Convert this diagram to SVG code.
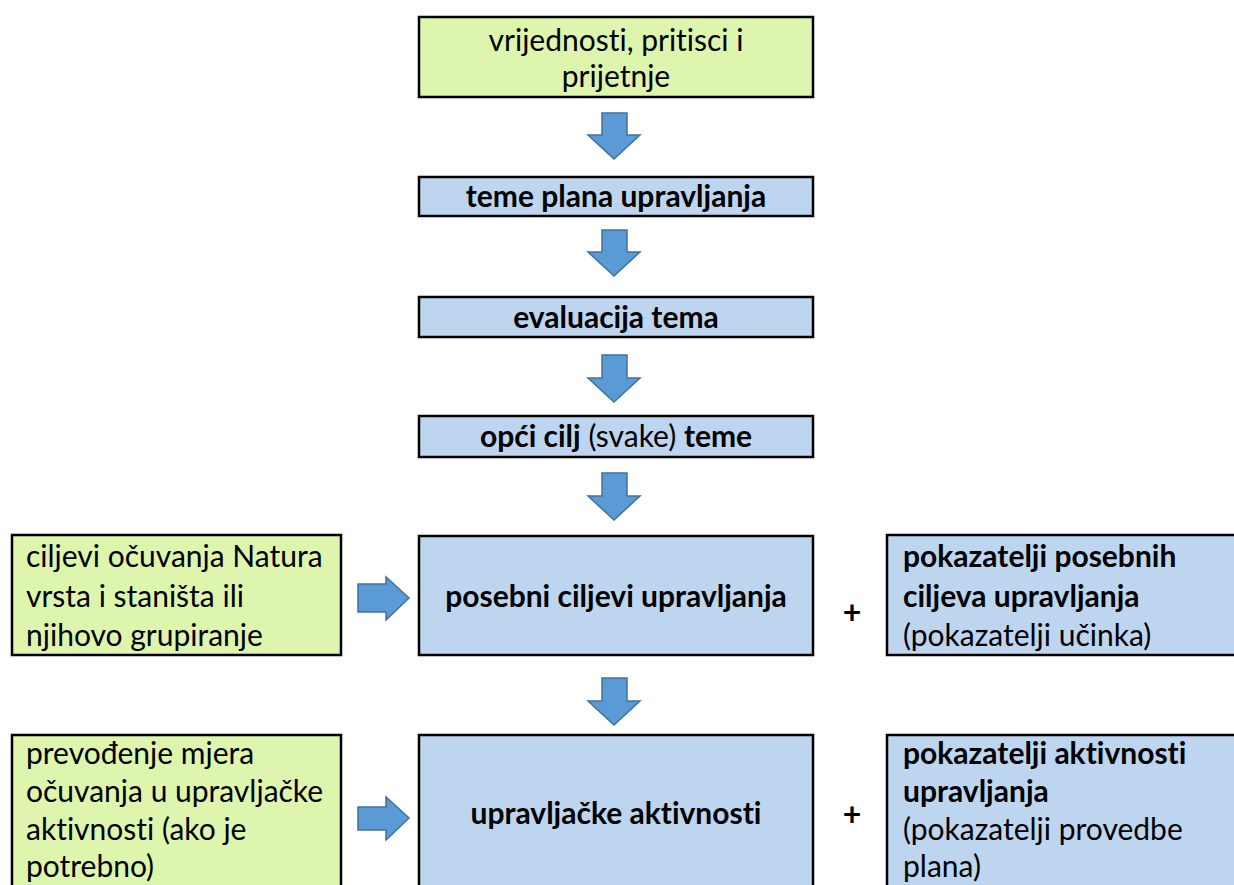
<svg xmlns="http://www.w3.org/2000/svg" width="1234" height="885" viewBox="0 0 1234 885">
<style>
.g{fill:#DDF5AD;stroke:#000;stroke-width:2.5}
.b{fill:#BDD5EE;stroke:#000;stroke-width:2.5}
.a{fill:#5B9BD5;stroke:#41719C;stroke-width:1.5;stroke-linejoin:miter}
text{font-family:Lato,"Open Sans","Liberation Sans",sans-serif;font-size:30px;fill:#000;font-variant-ligatures:none;font-feature-settings:"liga" 0}
.c{text-anchor:middle}
.k{font-weight:bold}
.p{font-size:32px}
</style>
<g id="connectors">
<path class="a" d="M602,113 H627 V135 H640 L614,159 L588,135 H602 Z"/>
<path class="a" d="M602,230 H627 V252 H640 L614,276 L588,252 H602 Z"/>
<path class="a" d="M602,355 H627 V378 H640 L614,402 L588,378 H602 Z"/>
<path class="a" d="M602,473 H627 V496 H640 L614,520 L588,496 H602 Z"/>
<path class="a" d="M602,678 H627 V701 H640 L614,725 L588,701 H602 Z"/>
<path class="a" d="M358,584 H386 V577 L409,598 L386,620 V612 H358 Z"/>
<path class="a" d="M358,807 H386 V797 L409,818 L386,840 V830 H358 Z"/>
</g>
<g id="n1"><rect class="g" x="419" y="17" width="394" height="80"/>
<text class="c" x="616" y="51">vrijednosti, pritisci i</text>
<text class="c" x="616" y="87">prijetnje</text></g>
<g id="n2"><rect class="b" x="419" y="177" width="394" height="39"/>
<text class="c k" x="616" y="207">teme plana upravljanja</text></g>
<g id="n3"><rect class="b" x="419" y="297" width="394" height="40"/>
<text class="c k" x="616" y="328">evaluacija tema</text></g>
<g id="n4"><rect class="b" x="419" y="416" width="394" height="41"/>
<text class="c" x="616" y="447"><tspan class="k">opći cilj</tspan> (svake) <tspan class="k">teme</tspan></text></g>
<g id="n5"><rect class="g" x="12" y="535" width="329" height="120"/>
<text x="26" y="567">ciljevi očuvanja Natura</text>
<text x="26" y="607">vrsta i staništa ili</text>
<text x="26" y="646">njihovo grupiranje</text></g>
<g id="n6"><rect class="b" x="419" y="536" width="394" height="119"/>
<text class="c k" x="616" y="607">posebni ciljevi upravljanja</text></g>
<g id="p1"><text class="c k p" x="852" y="624">+</text></g>
<g id="n7"><rect class="b" x="887" y="535" width="360" height="120"/>
<text class="k" x="903" y="567">pokazatelji posebnih</text>
<text class="k" x="903" y="607">ciljeva upravljanja</text>
<text x="903" y="646">(pokazatelji učinka)</text></g>
<g id="n8"><rect class="g" x="12" y="735" width="329" height="170"/>
<text x="26" y="764">prevođenje mjera</text>
<text x="26" y="802">očuvanja u upravljačke</text>
<text x="26" y="840">aktivnosti (ako je</text>
<text x="26" y="877">potrebno)</text></g>
<g id="n9"><rect class="b" x="419" y="735" width="394" height="170"/>
<text class="c k" x="616" y="824">upravljačke aktivnosti</text></g>
<g id="p2"><text class="c k p" x="852" y="826">+</text></g>
<g id="n10"><rect class="b" x="887" y="735" width="360" height="170"/>
<text class="k" x="903" y="764">pokazatelji aktivnosti</text>
<text class="k" x="903" y="802">upravljanja</text>
<text x="903" y="840">(pokazatelji provedbe</text>
<text x="903" y="877">plana)</text></g>
</svg>
